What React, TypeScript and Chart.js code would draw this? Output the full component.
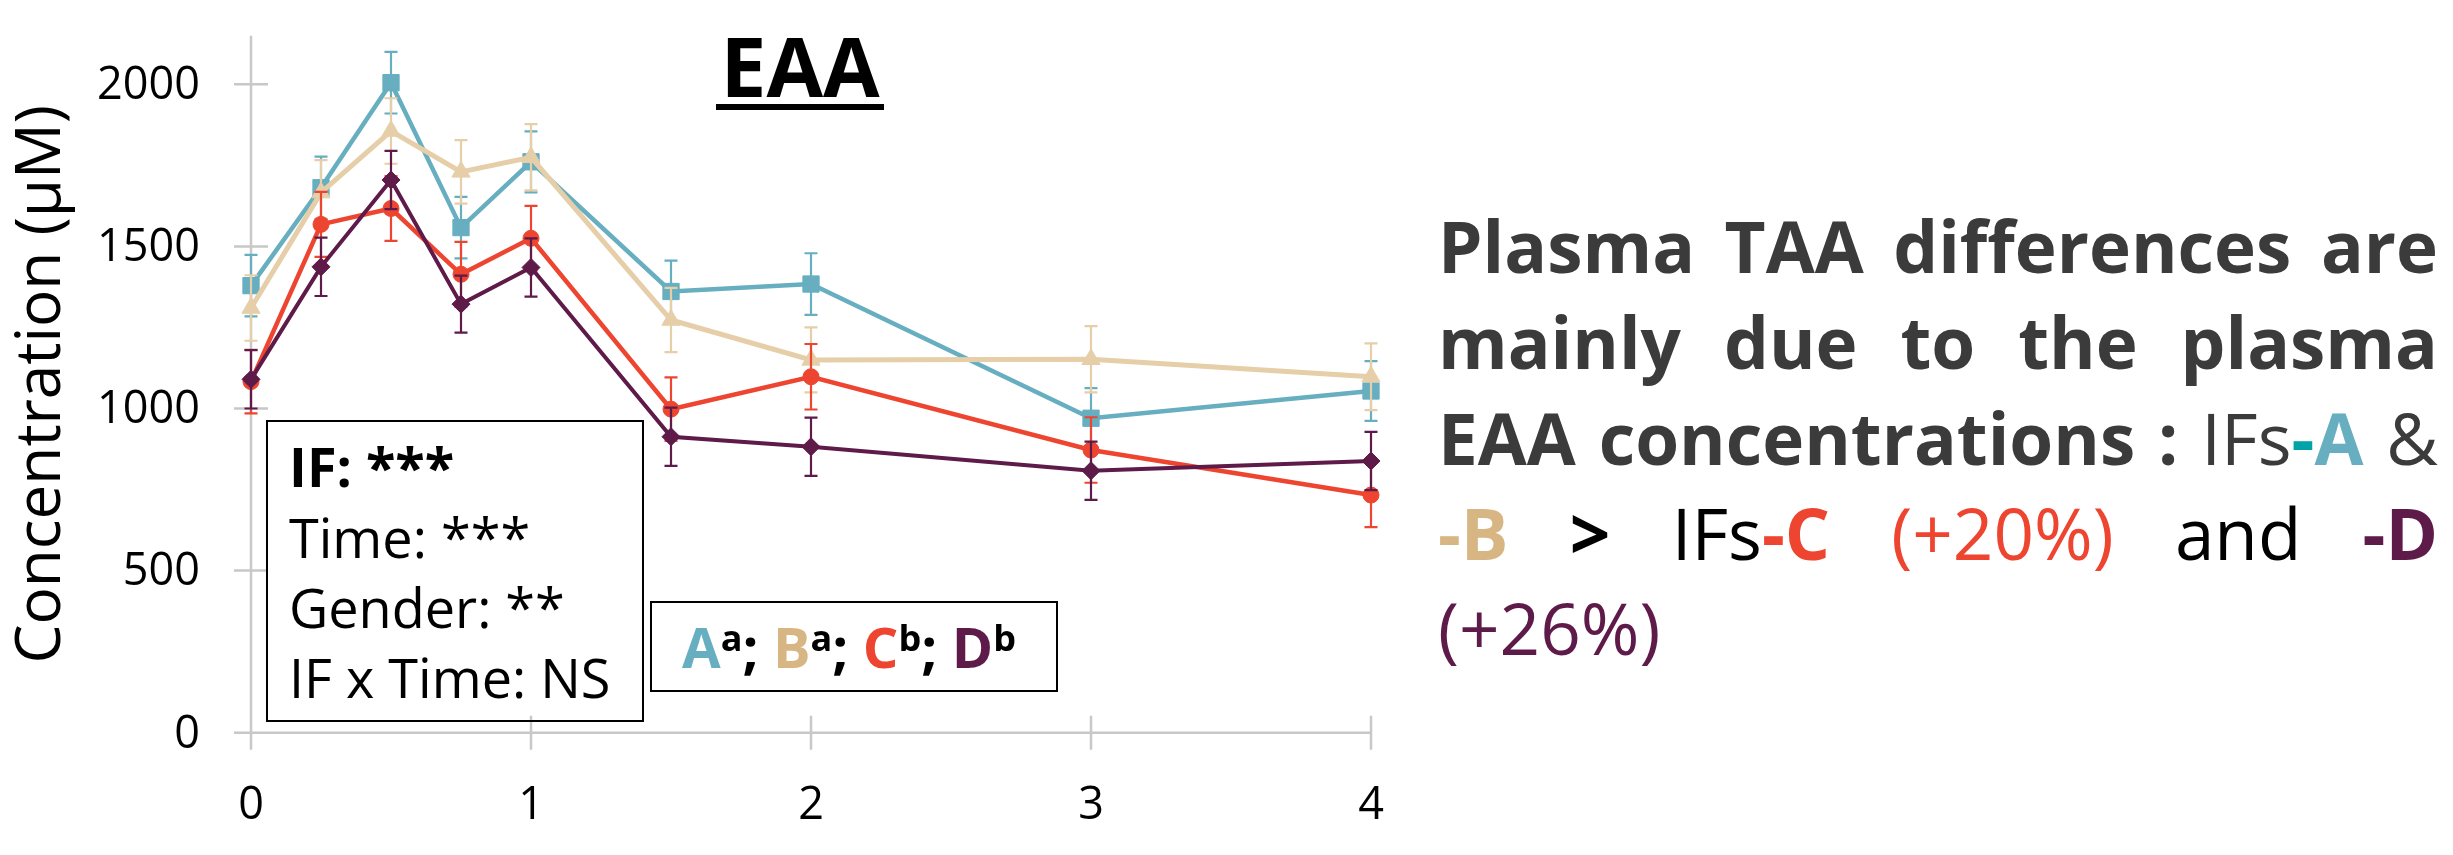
import React, { useEffect, useRef } from "react";
import { Chart, registerables } from "chart.js";

Chart.register(...registerables);

// ---------- data ----------
const TIMES = [0, 0.25, 0.5, 0.75, 1, 1.5, 2, 3, 4];

const IF_A = [1379, 1681, 2005, 1558, 1761, 1361, 1384, 970, 1054];
const IF_A_SEM = [95, 96, 95, 95, 94, 95, 95, 93, 92];

const IF_B = [1310, 1666, 1856, 1730, 1775, 1273, 1150, 1152, 1098];
const IF_B_SEM = [101, 100, 101, 98, 102, 99, 100, 102, 103];

const IF_C = [1083, 1568, 1617, 1414, 1525, 998, 1098, 872, 733];
const IF_C_SEM = [98, 100, 100, 100, 100, 98, 101, 101, 99];

const IF_D = [1090, 1437, 1705, 1322, 1435, 913, 882, 808, 838];
const IF_D_SEM = [90, 90, 90, 88, 90, 90, 90, 90, 90];

const Y_TICKS = [0, 500, 1000, 1500, 2000];
const X_TICKS = [0, 1, 2, 3, 4];
const Y_MAX = 2150;

const Y_TITLE = "Concentration (μM)";
const CHART_TITLE = "EAA";

const FONT = "'Open Sans', 'Noto Sans', sans-serif";

const COL_A = "#66AEC0";
const COL_B_LINE = "#E5CEA8";
const COL_B_TEXT = "#D8B683";
const COL_C = "#EE4530";
const COL_D = "#5E1A48";
const COL_DASH_A = "#00A3A8";
const GREY_TEXT = "#3B3B3B";
const AXIS_GREY = "#C8C8C8";

const toPts = (ys: number[]) => TIMES.map((t, i) => ({ x: t, y: ys[i] }));

// ---------- plugins ----------
const axesPlugin = {
  id: "excelAxes",
  beforeDatasetsDraw(chart: any) {
    const { ctx, scales } = chart;
    const xS = scales.x;
    const yS = scales.y;
    const x0 = xS.getPixelForValue(0);
    const y0 = yS.getPixelForValue(0);
    const tick = 17;
    ctx.save();
    ctx.strokeStyle = AXIS_GREY;
    ctx.lineWidth = 2.5;
    ctx.beginPath();
    ctx.moveTo(x0, yS.getPixelForValue(Y_MAX));
    ctx.lineTo(x0, y0 + tick);
    ctx.moveTo(x0 - tick, y0);
    ctx.lineTo(xS.getPixelForValue(4), y0);
    Y_TICKS.forEach((v) => {
      const y = yS.getPixelForValue(v);
      ctx.moveTo(x0 - tick, y);
      ctx.lineTo(x0 + tick, y);
    });
    X_TICKS.forEach((v) => {
      const x = xS.getPixelForValue(v);
      ctx.moveTo(x, y0 - tick);
      ctx.lineTo(x, y0 + tick);
    });
    ctx.stroke();
    // y tick labels
    ctx.fillStyle = "#000";
    ctx.font = `45px ${FONT}`;
    ctx.textAlign = "right";
    ctx.textBaseline = "middle";
    Y_TICKS.forEach((v) => {
      ctx.fillText(String(v), x0 - 51, yS.getPixelForValue(v) + 2);
    });
    ctx.restore();
  },
};

const errorBarPlugin = {
  id: "errorBars",
  beforeDatasetDraw(chart: any, args: any) {
    const ds = chart.data.datasets[args.index];
    const errs: number[] = ds.errors;
    if (!errs) return;
    const xS = chart.scales.x;
    const yS = chart.scales.y;
    const ctx = chart.ctx;
    const cap = 6.5;
    ctx.save();
    ctx.strokeStyle = ds.borderColor;
    ctx.lineWidth = 2.2;
    ds.data.forEach((p: any, i: number) => {
      const x = xS.getPixelForValue(p.x);
      const y1 = yS.getPixelForValue(p.y + errs[i]);
      const y2 = yS.getPixelForValue(p.y - errs[i]);
      ctx.beginPath();
      ctx.moveTo(x, y1);
      ctx.lineTo(x, y2);
      ctx.moveTo(x - cap, y1);
      ctx.lineTo(x + cap, y1);
      ctx.moveTo(x - cap, y2);
      ctx.lineTo(x + cap, y2);
      ctx.stroke();
    });
    ctx.restore();
  },
};

// ---------- overlay helpers ----------
const ASC = 0.888; // baseline offset (em) for line-height 1

function Txt(props: {
  x: number;
  baseline: number;
  size: number;
  bold?: boolean;
  color?: string;
  children: React.ReactNode;
}) {
  const { x, baseline, size, bold, color, children } = props;
  return (
    <div
      style={{
        position: "absolute",
        left: x,
        top: baseline - ASC * size,
        fontSize: size,
        lineHeight: 1,
        fontWeight: bold ? 700 : 400,
        color: color || "#000",
        whiteSpace: "nowrap",
        fontFamily: FONT,
      }}
    >
      {children}
    </div>
  );
}

type Seg = { t: string; b?: boolean; c: string };
type Word = Seg[];

const PARA_LINES: Word[][] = [
  [
    [{ t: "Plasma", b: true, c: GREY_TEXT }],
    [{ t: "TAA", b: true, c: GREY_TEXT }],
    [{ t: "differences", b: true, c: GREY_TEXT }],
    [{ t: "are", b: true, c: GREY_TEXT }],
  ],
  [
    [{ t: "mainly", b: true, c: GREY_TEXT }],
    [{ t: "due", b: true, c: GREY_TEXT }],
    [{ t: "to", b: true, c: GREY_TEXT }],
    [{ t: "the", b: true, c: GREY_TEXT }],
    [{ t: "plasma", b: true, c: GREY_TEXT }],
  ],
  [
    [{ t: "EAA", b: true, c: GREY_TEXT }],
    [{ t: "concentrations", b: true, c: GREY_TEXT }],
    [{ t: ":", b: true, c: GREY_TEXT }],
    [
      { t: "IFs", c: GREY_TEXT },
      { t: "-", b: true, c: COL_DASH_A },
      { t: "A", b: true, c: COL_A },
    ],
    [{ t: "&", c: GREY_TEXT }],
  ],
  [
    [
      { t: "-", b: true, c: COL_B_TEXT },
      { t: "B", b: true, c: COL_B_TEXT },
    ],
    [{ t: ">", b: true, c: "#000" }],
    [
      { t: "IFs", c: "#000" },
      { t: "-C", b: true, c: COL_C },
    ],
    [{ t: "(+20%)", c: COL_C }],
    [{ t: "and", c: "#000" }],
    [{ t: "-D", b: true, c: COL_D }],
  ],
];
const PARA_LAST: Word[] = [[{ t: "(+26%)", c: COL_D }]];

const PARA_LEFT = 1438;
const PARA_WIDTH = 1000;
const PARA_SIZE = 71;
const PARA_BASELINES = [273, 369, 465, 560, 655];

function ParaLine(props: { words: Word[]; baseline: number; justify: boolean }) {
  const { words, baseline, justify } = props;
  return (
    <div
      style={{
        position: "absolute",
        left: PARA_LEFT,
        top: baseline - ASC * PARA_SIZE,
        width: PARA_WIDTH,
        display: "flex",
        justifyContent: justify ? "space-between" : "flex-start",
        alignItems: "baseline",
        fontSize: PARA_SIZE,
        lineHeight: 1,
        fontFamily: FONT,
        whiteSpace: "nowrap",
      }}
    >
      {words.map((w, i) => (
        <span key={i}>
          {w.map((s, j) => (
            <span key={j} style={{ color: s.c, fontWeight: s.b ? 700 : 400 }}>
              {s.t}
            </span>
          ))}
        </span>
      ))}
    </div>
  );
}

export default function App() {
  const ref = useRef<HTMLCanvasElement>(null);

  useEffect(() => {
    Chart.defaults.font.family = FONT;
    const mk = (
      label: string,
      ys: number[],
      errs: number[],
      color: string,
      style: string,
      radius: number,
      width: number,
      order: number
    ) => ({
      label,
      data: toPts(ys),
      errors: errs,
      borderColor: color,
      backgroundColor: color,
      pointBackgroundColor: color,
      pointBorderColor: color,
      pointBorderWidth: 1,
      pointStyle: style,
      pointRadius: radius,
      borderWidth: width,
      tension: 0,
      clip: false,
      order,
    });

    const chart = new Chart(ref.current!, {
      type: "line",
      data: {
        datasets: [
          mk("IF-A", IF_A, IF_A_SEM, COL_A, "rect", 11.5, 4.5, 4),
          mk("IF-B", IF_B, IF_B_SEM, COL_B_LINE, "triangle", 10.5, 5, 3),
          mk("IF-C", IF_C, IF_C_SEM, COL_C, "circle", 8, 4.5, 2),
          mk("IF-D", IF_D, IF_D_SEM, COL_D, "rectRot", 9, 4, 1),
        ] as any,
      },
      options: {
        animation: false,
        responsive: false,
        devicePixelRatio: 1,
        layout: { autoPadding: false, padding: { top: 35.7, right: 1082, bottom: 0, left: 0 } },
        plugins: {
          legend: { display: false },
          tooltip: { enabled: false },
          title: { display: false },
        },
        scales: {
          x: {
            type: "linear",
            min: 0,
            max: 4,
            grid: { display: false, drawTicks: false },
            border: { display: false },
            afterBuildTicks: (s: any) => {
              s.ticks = X_TICKS.map((v) => ({ value: v }));
            },
            afterFit: (s: any) => {
              s.height = 122.3;
            },
            ticks: {
              color: "#000",
              padding: 46,
              font: { size: 45, family: FONT },
              maxRotation: 0,
              callback: (v: any) => String(v),
            },
          },
          y: {
            type: "linear",
            min: 0,
            max: Y_MAX,
            grid: { display: false, drawTicks: false },
            border: { display: false },
            afterBuildTicks: (s: any) => {
              s.ticks = Y_TICKS.map((v) => ({ value: v }));
            },
            afterFit: (s: any) => {
              s.width = 251;
            },
            ticks: { display: false },
            title: {
              display: true,
              text: Y_TITLE,
              color: "#000",
              font: { size: 62, family: FONT, weight: "normal" },
              padding: { top: 5, bottom: 0 },
            },
          },
        },
      } as any,
      plugins: [axesPlugin, errorBarPlugin],
    });
    return () => chart.destroy();
  }, []);

  const sup = (t: string) => (
    <span style={{ fontSize: 36, position: "relative", top: -17, color: "#000" }}>{t}</span>
  );

  return (
    <div
      style={{
        position: "absolute",
        left: 0,
        top: 0,
        width: 2453,
        height: 855,
        overflow: "hidden",
        background: "#fff",
        fontFamily: FONT,
      }}
    >
      <canvas ref={ref} width={2453} height={855} style={{ position: "absolute", left: 0, top: 0 }} />

      {/* chart title */}
      <div
        style={{
          position: "absolute",
          left: 716,
          width: 168,
          top: 97.3 - ASC * 82,
          fontSize: 82,
          lineHeight: 1,
          fontWeight: 700,
          textAlign: "center",
          color: "#000",
          fontFamily: FONT,
        }}
      >
        {CHART_TITLE}
      </div>
      <div style={{ position: "absolute", left: 716, top: 104, width: 168, height: 6, background: "#000" }} />

      {/* statistics box */}
      <div
        style={{
          position: "absolute",
          left: 266,
          top: 420,
          width: 378,
          height: 302,
          border: "2px solid #000",
          boxSizing: "border-box",
        }}
      />
      <Txt x={289} baseline={487.3} size={54} bold>
        IF: ***
      </Txt>
      <Txt x={289} baseline={558.3} size={54}>
        Time: ***
      </Txt>
      <Txt x={289} baseline={628} size={54}>
        Gender: **
      </Txt>
      <Txt x={289} baseline={698} size={54}>
        IF x Time: NS
      </Txt>

      {/* letters box */}
      <div
        style={{
          position: "absolute",
          left: 650,
          top: 600.7,
          width: 408,
          height: 91,
          border: "2px solid #000",
          boxSizing: "border-box",
        }}
      />
      <Txt x={682} baseline={667.3} size={56} bold>
        <span style={{ color: COL_A }}>A</span>
        {sup("a")}
        <span>; </span>
        <span style={{ color: COL_B_TEXT }}>B</span>
        {sup("a")}
        <span>; </span>
        <span style={{ color: COL_C }}>C</span>
        {sup("b")}
        <span>; </span>
        <span style={{ color: COL_D }}>D</span>
        {sup("b")}
      </Txt>

      {/* right paragraph */}
      {PARA_LINES.map((words, i) => (
        <ParaLine key={i} words={words} baseline={PARA_BASELINES[i]} justify />
      ))}
      <ParaLine words={PARA_LAST} baseline={PARA_BASELINES[4]} justify={false} />
    </div>
  );
}
